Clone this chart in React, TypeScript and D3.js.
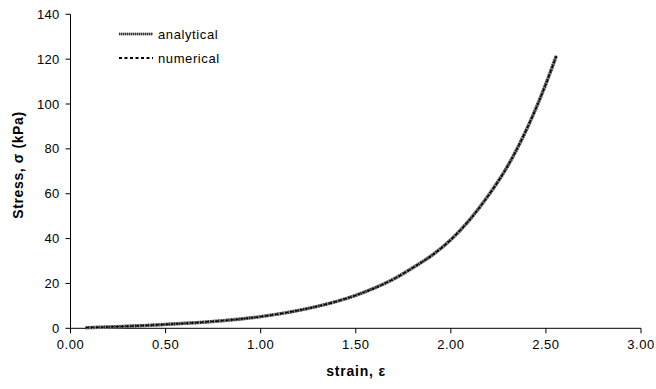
import React from "react";
import * as d3 from "d3";

const strain = [0.08, 0.2, 0.4, 0.6, 0.8, 1.0, 1.2, 1.4, 1.5, 1.6, 1.7, 1.8, 1.9, 2.0, 2.1, 2.2, 2.3, 2.4, 2.5, 2.555];
const analyticalStress = [0.3, 0.6, 1.3, 2.2, 3.4, 5.2, 8.0, 12.0, 14.7, 18.0, 22.0, 27.0, 32.5, 39.5, 48.5, 59.5, 72.5, 89, 109, 121.5];
const numericalStress = [0.3, 0.6, 1.3, 2.2, 3.4, 5.2, 8.0, 12.0, 14.7, 18.0, 22.0, 27.0, 32.5, 39.5, 48.5, 59.5, 72.5, 89, 109, 121.5];
const xTicks = [0, 0.5, 1.0, 1.5, 2.0, 2.5, 3.0];
const yTicks = [0, 20, 40, 60, 80, 100, 120, 140];
const seriesNames = ["analytical", "numerical"];

export default function App() {
  const W = 656, H = 389;
  const x = d3.scaleLinear().domain([0, 3]).range([70.5, 641]);
  const y = d3.scaleLinear().domain([0, 140]).range([328.3, 14.3]);
  const line = d3
    .line<number>()
    .x((_, i) => x(strain[i]))
    .y((d) => y(d))
    .curve(d3.curveMonotoneX);
  const font = "Arial, 'Liberation Sans', sans-serif";
  return (
    <svg width={W} height={H} style={{ position: "absolute", left: 0, top: 0 }} fontFamily={font}>
      <rect width={W} height={H} fill="#fff" />
      {/* axes */}
      <line x1={x(0)} x2={x(3)} y1={y(0)} y2={y(0)} stroke="#000" strokeWidth={1} />
      <line x1={x(0)} x2={x(0)} y1={y(0)} y2={y(140)} stroke="#000" strokeWidth={1} />
      {xTicks.map((t) => (
        <g key={"x" + t}>
          <line x1={x(t)} x2={x(t)} y1={y(0)} y2={y(0) + 5} stroke="#000" />
          <text x={x(t)} y={y(0) + 21} fontSize={13} letterSpacing={0.5} textAnchor="middle" fill="#000">
            {t.toFixed(2)}
          </text>
        </g>
      ))}
      {yTicks.map((t) => (
        <g key={"y" + t}>
          <line x1={x(0) - 5} x2={x(0)} y1={y(t)} y2={y(t)} stroke="#000" />
          <text x={x(0) - 11} y={y(t) + 4.5} fontSize={13} letterSpacing={0.3} textAnchor="end" fill="#000">
            {t}
          </text>
        </g>
      ))}
      <text x={356} y={376} fontSize={14} letterSpacing={0.8} fontWeight="bold" textAnchor="middle">
        strain, ε
      </text>
      <text
        transform={`translate(23,${165}) rotate(-90)`}
        fontSize={14}
        letterSpacing={0.6}
        fontWeight="bold"
        textAnchor="middle"
      >
        Stress, σ (kPa)
      </text>
      {/* analytical */}
      <path d={line(analyticalStress) || ""} fill="none" stroke="#8a8a8a" strokeWidth={3.5} />
      <path d={line(analyticalStress) || ""} fill="none" stroke="#222" strokeWidth={3} strokeDasharray="1,1.6" />
      {/* numerical */}
      <path d={line(numericalStress) || ""} fill="none" stroke="#000" strokeWidth={1.4} strokeDasharray="3,2" />
      {/* legend */}
      <line x1={119} x2={153} y1={34} y2={34} stroke="#999" strokeWidth={2.5} />
      <line x1={119} x2={153} y1={34} y2={34} stroke="#333" strokeWidth={2.5} strokeDasharray="1,1" />
      <text x={158} y={38.5} fontSize={13} letterSpacing={0.6}>{seriesNames[0]}</text>
      <line x1={119} x2={153} y1={58} y2={58} stroke="#000" strokeWidth={1.8} strokeDasharray="3,2.5" />
      <text x={158} y={62.5} fontSize={13} letterSpacing={0.6}>{seriesNames[1]}</text>
    </svg>
  );
}
